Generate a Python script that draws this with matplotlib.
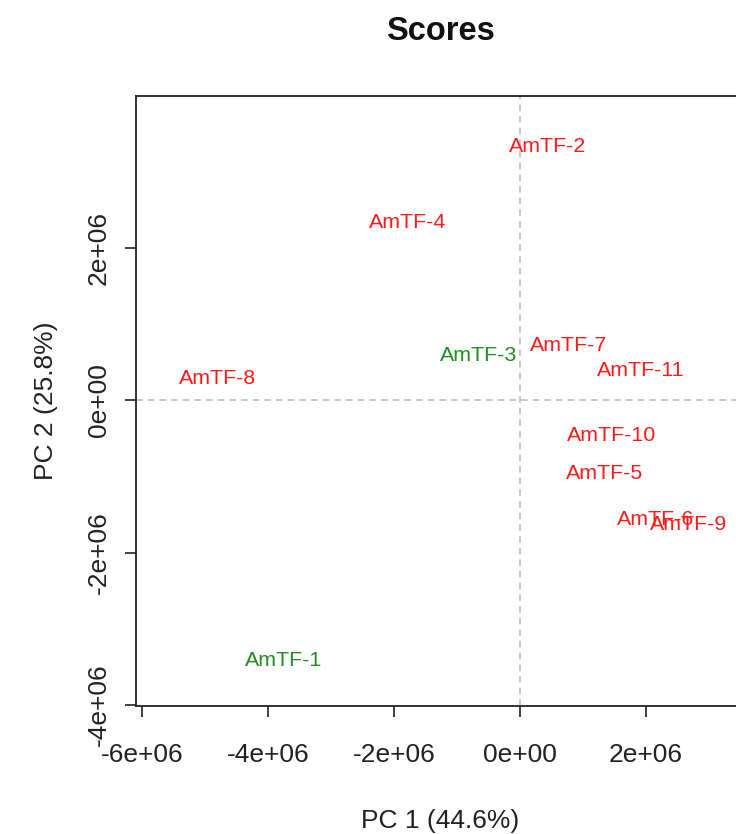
import matplotlib
matplotlib.use("Agg")
import matplotlib.pyplot as plt

# PCA scores (PC1, PC2) for each sample
samples = ["AmTF-1", "AmTF-2", "AmTF-3", "AmTF-4", "AmTF-5", "AmTF-6",
           "AmTF-7", "AmTF-8", "AmTF-9", "AmTF-10", "AmTF-11"]
pc1 = [-3.76e6, 0.44e6, -0.65e6, -1.78e6, 1.35e6, 2.16e6,
       0.78e6, -4.81e6, 2.68e6, 1.46e6, 1.92e6]
pc2 = [-3.41e6, 3.33e6, 0.59e6, 2.33e6, -0.96e6, -1.57e6,
       0.72e6, 0.28e6, -1.63e6, -0.47e6, 0.39e6]
groups = ["B", "A", "B", "A", "A", "A", "A", "A", "A", "A", "A"]
group_colors = {"A": "#FF1A1A", "B": "#228B22"}

x_ticks = [-6e6, -4e6, -2e6, 0, 2e6]
x_tick_labels = ["-6e+06", "-4e+06", "-2e+06", "0e+00", "2e+06"]
y_ticks = [-4e6, -2e6, 0, 2e6]
y_tick_labels = ["-4e+06", "-2e+06", "0e+00", "2e+06"]

plt.rcParams["font.family"] = ["Liberation Sans", "DejaVu Sans"]

W, H = 736, 834
fig = plt.figure(figsize=(W / 100, H / 100), dpi=100)
left, right, top, bottom = 136, 744, 96, 706
ax = fig.add_axes([left / W, 1 - bottom / H, (right - left) / W, (bottom - top) / H])

ax.set_xlim(-6.1e6, 3.56e6)
ax.set_ylim(-4.013e6, 3.987e6)

ax.axhline(0, color="#BEBEBE", lw=1.2, ls=(0, (4, 3)), zorder=1)
ax.axvline(0, color="#BEBEBE", lw=1.2, ls=(0, (4, 3)), zorder=1)

for name, x, y, g in zip(samples, pc1, pc2, groups):
    ax.text(x, y, name, color=group_colors[g], fontsize=15.4,
            ha="center", va="center", zorder=3)

ax.set_xticks(x_ticks)
ax.set_xticklabels(x_tick_labels)
ax.set_yticks(y_ticks)
ax.set_yticklabels(y_tick_labels, rotation=90, va="center")
ax.tick_params(axis="both", labelsize=19, length=8, width=1.2, color="#222222",
               labelcolor="#222222")
ax.tick_params(axis="x", pad=19)
ax.tick_params(axis="y", pad=10)

for s in ax.spines.values():
    s.set_linewidth(1.3)
    s.set_color("#222222")

ax.set_xlabel("PC 1 (44.6%)", fontsize=19, color="#222222", labelpad=30)
ax.set_ylabel("PC 2 (25.8%)", fontsize=19, color="#222222", labelpad=21)

fig.text(440 / W, 1 - 32 / H, "Scores", fontsize=23.5, fontweight="bold",
         ha="center", va="center", color="#111111")

fig.savefig("out.png", dpi=100)
